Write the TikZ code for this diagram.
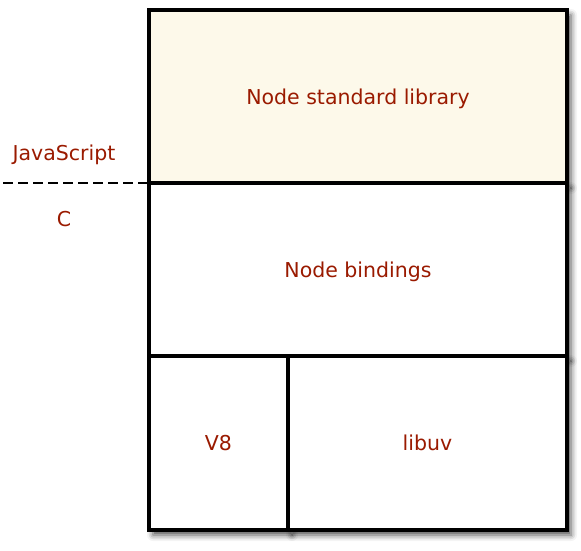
\documentclass[tikz,border=0pt]{standalone}
\usepackage{fontspec}
\setmainfont{DejaVu Sans}
\usepackage{tikz}
\usetikzlibrary{positioning,shadows.blur}
\usepackage{xcolor}
\definecolor{labelred}{HTML}{9A1A00}
\definecolor{cream}{HTML}{FDF9EA}

\begin{document}
\begin{tikzpicture}[%
    x=1pt,
    y=-1pt,
    node distance=0pt,
    layer/.style={%
      rectangle,
      draw,
      line width=3.5pt,
      outer sep=0pt,
      fill=white,
      text=labelred,
      text depth=0pt,
      font=\fontsize{20.5}{24}\selectfont,
      blur shadow={shadow xshift=4pt,shadow yshift=-5pt,shadow blur radius=6pt,shadow opacity=70}
    },
    side/.style={%
      text=labelred,
      font=\fontsize{20.5}{24}\selectfont
    }
  ]
    \useasboundingbox (0,0) rectangle (581,551);

    \node[layer,fill=cream,minimum width=418pt,minimum height=173pt] (stdlib) at (358,96.5) {Node standard library};
    \node[layer,minimum width=418pt,minimum height=173pt] (bindings) [below=of stdlib] {Node bindings};
    \node[layer,minimum width=139pt,minimum height=174pt] (v8) [below=of bindings.south west,anchor=north west] {V8};
    \node[layer,minimum width=279pt,minimum height=174pt] (libuv) [right=of v8] {libuv};

    \coordinate (split) at (3,183);
    \draw[line width=2.5pt,dash pattern=on 10pt off 5pt] (split) -- (stdlib.south west);

    \node[side] (js) at (64,155) {JavaScript};
    \node[side] (c)  at (64,219) {C};
  \end{tikzpicture}
\end{document}
